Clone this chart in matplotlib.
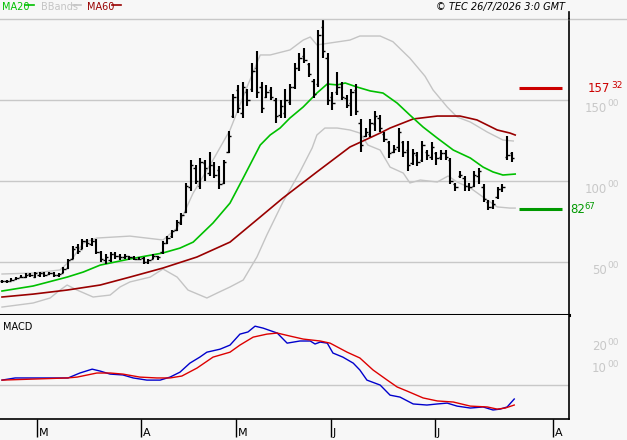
"""Daily OHLC chart with MA20 / MA60 / Bollinger bands and a MACD panel."""

import numpy as np
import matplotlib.pyplot as plt
from matplotlib.lines import Line2D
from matplotlib.transforms import blended_transform_factory

# ── Price bars (one per trading day) ─────────────────────────────────────────
low = [37, 37, 38, 39, 40, 40, 41, 40, 41, 41, 42, 41, 41, 43, 46, 52, 55, 58, 59, 60,
       55, 50, 49, 50, 52, 51, 52, 51, 51, 51, 49, 49, 52, 51, 55, 61, 65, 69, 73, 80,
       94, 98, 95, 100, 103, 102, 95, 98, 117, 139, 142, 139, 146, 155, 151, 142, 151, 150, 136, 139,
       139, 147, 157, 168, 173, 164, 151, 158, 176, 147, 144, 153, 150, 145, 140, 141, 118, 127, 127, 131,
       130, 124, 114, 117, 118, 115, 106, 110, 109, 112, 113, 113, 110, 113, 113, 98, 94, 102, 94, 94,
       96, 98, 87, 82, 83, 89, 93, 113, 112]
high = [39, 39, 40, 41, 42, 43, 43, 44, 44, 44, 44, 44, 43, 47, 52, 60, 61, 64, 64, 65,
        64, 57, 55, 56, 56, 55, 55, 54, 54, 53, 53, 52, 55, 54, 63, 66, 70, 76, 80, 99,
        113, 110, 114, 113, 118, 112, 109, 113, 131, 154, 159, 161, 157, 173, 180, 161, 159, 158, 151, 150,
        157, 160, 173, 179, 182, 173, 163, 193, 200, 179, 155, 167, 161, 153, 157, 160, 138, 133, 138, 143,
        141, 130, 125, 122, 133, 125, 125, 120, 118, 125, 119, 124, 118, 119, 119, 114, 99, 106, 103, 99,
        106, 108, 98, 88, 88, 96, 98, 128, 118]
open_ = [38, 38, 38.5, 39.5, 40.5, 41, 42.5, 41, 42, 43, 42.5, 43, 42, 43.5, 46.5, 52, 59, 58, 63, 61,
         63, 56, 51, 51, 55, 54, 53, 54, 53, 52, 52.5, 50, 52, 54, 56, 62, 66, 70, 74, 81,
         96, 108, 97, 111, 105, 110, 107, 99, 118, 140, 156, 142, 155, 157, 170, 158, 152, 156, 150, 141,
         142, 149, 158, 170, 177, 172, 162, 160, 195, 176, 152, 155, 160, 151, 148, 156, 136, 128, 129, 135,
         139, 129, 124, 118, 121, 124, 119, 111, 116, 113, 118, 115, 117, 115, 117, 113, 98, 103, 102, 97,
         97, 103, 96, 87, 84, 90, 95, 115, 117]
close = [38, 38.5, 39, 40, 41, 42, 42, 43, 43, 42, 43, 42, 42.5, 46, 51, 58, 57, 63, 62, 63,
         56, 52, 53, 55, 54, 53, 54, 53, 52, 52, 50, 51, 54, 53, 62, 65, 69, 75, 79, 97,
         110, 100, 112, 108, 110, 104, 98, 112, 128, 152, 145, 158, 150, 168, 155, 145, 155, 152, 140, 146,
         150, 158, 170, 176, 175, 166, 154, 190, 180, 150, 148, 158, 152, 147, 155, 143, 122, 130, 136, 140,
         133, 126, 117, 120, 130, 118, 110, 117, 112, 122, 116, 121, 114, 117, 115, 100, 96, 104, 97, 96,
         104, 106, 89, 84, 86, 95, 96, 116, 114]

# ── Overlays (sampled along the trading-day axis) ────────────────────────────
ma20_x = [0, 6.6, 13.8, 17.2, 20.8, 27.1, 34.1, 37.7, 40.5, 44.7, 48.3, 51.1, 54.7, 56.8, 58.9,
          61, 63.8, 66.7, 68.9, 71, 72.7, 75.2, 78, 80.7, 83.7, 86.4, 89.2, 92.2, 95.6, 99.2,
          101.9, 104, 106.1, 108.7]
ma20_y = [32.1, 35.2, 40.7, 43.8, 48.1, 51.9, 55.6, 58.6, 62.3, 74.1, 86.4, 101.9, 122.2, 128.4, 132.7,
          138.9, 145.7, 154.3, 159.9, 159.3, 160.5, 158.0, 155.6, 154.3, 148.1, 140.7, 133.3, 126.5, 119.1, 114.2,
          108.6, 105.6, 103.7, 104.3]

ma60_x = [0, 6.6, 13.8, 20.8, 27.1, 34.1, 41.3, 48.3, 54.7, 59.5, 66.7, 73.7, 80.1, 82.2,
          87.1, 92.2, 97, 100.6, 104.9, 107.6, 108.7]
ma60_y = [28.4, 30.2, 32.7, 35.8, 40.7, 46.3, 53.1, 62.3, 77.8, 89.5, 105.6, 121.0, 129.6, 132.7,
          138.3, 140.1, 140.1, 137.7, 131.5, 129.6, 128.4]

bb_up_x = [0, 6.6, 12.3, 15.0, 17.2, 20.1, 27.1, 34.1, 37.1, 40.5, 44.7, 48.3, 51.9, 54, 54.7,
           56.8, 61, 63.8, 65.3, 66.7, 69.5, 73.7, 75.8, 80.1, 82.8, 86.4, 89.6, 91.3, 94.3, 96.4,
           99.2, 102.8, 106.1, 108.3]
bb_up_y = [42.6, 43.2, 45.1, 52.5, 61.7, 64.8, 66.0, 63.6, 71.0, 92.6, 113.0, 131.5, 158.0, 172.8, 177.8,
           177.8, 180.9, 187.0, 188.9, 184.0, 185.2, 187.0, 189.5, 189.5, 186.0, 175.8, 164.7, 156.2, 145.7, 139.5,
           136.4, 130.2, 125.3, 124.7]

bb_lo_x = [0, 6.6, 10.2, 12.3, 13.8, 15.9, 19.3, 22.9, 25, 27.1, 31.4, 34.1, 37.1, 39.4, 43.4,
           45.6, 48.3, 51.1, 54, 56.1, 59.5, 63.1, 65.7, 66.7, 68.4, 71, 73.7, 75.8, 77.5, 80.1,
           82.2, 85, 86.4, 88.6, 92.2, 94.5, 96.4, 99.2, 101.9, 104.9, 107.6, 108.7]
bb_lo_y = [22.2, 24.7, 27.8, 32.7, 35.8, 32.7, 28.4, 29.6, 34.6, 37.7, 40.7, 45.7, 40.7, 32.7, 27.8,
           30.9, 34.6, 38.9, 53.1, 66.7, 87.0, 105.6, 120.4, 128.4, 132.7, 132.7, 131.5, 129.6, 122.2, 119.1,
           108.6, 104.9, 98.8, 100.6, 99.4, 103.1, 99.4, 95.7, 90.1, 84.0, 83.3, 83.3]

# ── MACD panel ───────────────────────────────────────────────────────────────
macd_x = [0, 2.8, 6.6, 9.5, 14, 16.5, 19.1, 20.8, 22.9, 25.6, 27.8, 30.7, 33.5, 35.6, 37.7,
          39.8, 41.9, 43.4, 46.2, 48.3, 50.4, 52.1, 53.6, 55.3, 58.3, 60.4, 63.1, 65.3, 66.3, 67.4,
          68.9, 70.1, 72.2, 74.4, 75.8, 77.3, 80.1, 82.2, 84.3, 87.1, 90, 92.2, 94.3, 96.4, 99.2,
          101.9, 104, 105.5, 107, 108.5]
macd_y = [2.3, 3.3, 3.3, 3.3, 3.3, 5.6, 7.4, 6.5, 5.1, 4.7, 3.3, 2.3, 2.3, 3.7, 6.0,
          10.2, 13.0, 15.3, 16.7, 18.6, 23.7, 24.7, 27.4, 26.5, 24.2, 19.5, 20.5, 20.5, 19.1, 20.0,
          19.5, 14.9, 13.0, 10.2, 7.0, 2.3, 0.0, -4.7, -5.6, -8.8, -9.3, -8.8, -8.4, -9.8, -10.7,
          -10.2, -11.6, -11.2, -10.2, -6.5]
sig_x = [0, 13.8, 15.9, 20.1, 22.9, 25.6, 29.2, 32.8, 35.6, 38.1, 41.3, 44.7, 48.3, 50.4, 53.2,
         56.1, 58.3, 61, 63.8, 67.4, 69.5, 73.1, 75.8, 78.6, 81.6, 83.7, 85.8, 89.2, 92.2, 95.6,
         99.2, 102.8, 104.9, 106.6, 108.5]
sig_y = [2.3, 3.3, 3.7, 5.6, 5.6, 5.1, 3.7, 3.3, 3.3, 4.2, 7.9, 13.0, 15.3, 18.6, 22.3,
         23.7, 24.2, 22.8, 21.4, 20.5, 19.5, 15.3, 12.6, 7.0, 2.3, -0.9, -2.8, -6.0, -7.4, -7.9,
         -9.8, -10.2, -11.2, -10.7, -9.3]

months = ["M", "A", "M", "J", "J", "A"]
month_pos = [7.4, 29.4, 49.6, 69.7, 91.7, 116.7]

price_ticks = [50, 100, 150]
macd_ticks = [10, 20]
level_hi = (157, 32)
level_lo = (82, 67)

BG = "#f7f7f7"
GRID = "#c8c8c8"
W, H = 627, 440

fig = plt.figure(figsize=(W / 100, H / 100), dpi=100, facecolor=BG)
ax = fig.add_axes([0, 1 - 315 / H, 569 / W, 296 / H], facecolor=BG)
ax2 = fig.add_axes([0, 1 - 419 / H, 569 / W, 104 / H], facecolor=BG)

# ── Main panel ───────────────────────────────────────────────────────────────
for p in price_ticks:
    ax.axhline(p, color=GRID, lw=1, zorder=0)

ax.plot(bb_up_x, bb_up_y, color="#c4c4c4", lw=1)
ax.plot(bb_lo_x, bb_lo_y, color="#c4c4c4", lw=1)
ax.plot(ma60_x, ma60_y, color="#990000", lw=1.2)
ax.plot(ma20_x, ma20_y, color="#00c000", lw=1.2)

idx = np.arange(len(close))
ax.vlines(idx, low, high, color="black", lw=1.5, zorder=3)
ax.hlines(open_, idx - 0.5, idx, color="black", lw=1, zorder=3)
ax.hlines(close, idx, idx + 0.5, color="black", lw=1, zorder=3)

hi_val = level_hi[0] + level_hi[1] / 100
lo_val = level_lo[0] + level_lo[1] / 100
ax.hlines(hi_val, 109.5, 118.6, color="#cc0000", lw=2.2)
ax.hlines(lo_val, 109.5, 118.6, color="#009900", lw=2.2)

ax.set_xlim(-0.42, 120.1)
ax.set_ylim(17.3, 200)
ax.set_xticks([])
ax.set_yticks([])
for s in ["top", "left"]:
    ax.spines[s].set_visible(False)
ax.spines["right"].set_color("black")
ax.spines["right"].set_linewidth(1.2)
ax.spines["bottom"].set_color("black")
ax.spines["bottom"].set_linewidth(2.2)

# right-hand labels
tr = blended_transform_factory(fig.transFigure, ax.transData)
for p in price_ticks:
    ax.text(607 / W, p - 1.5, f"{p}", transform=tr, ha="right", va="top",
            color=GRID, fontsize=8.5, clip_on=False)
    ax.text(607.5 / W, p + 0.5, "00", transform=tr, ha="left", va="top",
            color=GRID, fontsize=6.5, clip_on=False)
ax.text(610 / W, hi_val, f"{level_hi[0]}", transform=tr, ha="right", va="center",
        color="#cc0000", fontsize=8.5, clip_on=False)
ax.text(611 / W, hi_val + 1.5, f"{level_hi[1]}", transform=tr, ha="left", va="center",
        color="#cc0000", fontsize=6.5, clip_on=False)
ax.text(570 / W, lo_val, f"{level_lo[0]}", transform=tr, ha="left", va="center",
        color="#009900", fontsize=8.5, clip_on=False)
ax.text(584 / W, lo_val + 1.8, f"{level_lo[1]}", transform=tr, ha="left", va="center",
        color="#009900", fontsize=6, clip_on=False)

# ── MACD panel ───────────────────────────────────────────────────────────────
ax2.axhline(0, color=GRID, lw=1, zorder=0)
ax2.plot(macd_x, macd_y, color="#0000cc", lw=1)
ax2.plot(sig_x, sig_y, color="#dd0000", lw=1)
ax2.set_xlim(-0.42, 120.1)
ax2.set_ylim(-15.8, 32.6)
ax2.set_yticks([])
ax2.set_xticks(month_pos)
ax2.set_xticklabels([])
ax2.tick_params(axis="x", direction="out", length=13, width=1, color="black")
ax2.spines["top"].set_visible(False)
ax2.spines["left"].set_visible(False)
ax2.spines["right"].set_linewidth(1.2)
ax2.spines["bottom"].set_linewidth(1.2)
ax2.text(3 / 569, 0.88, "MACD", transform=ax2.transAxes, fontsize=7,
         ha="left", va="center", color="black")

tr2 = blended_transform_factory(fig.transFigure, ax2.transData)
for v in macd_ticks:
    ax2.text(607 / W, v + 0.8, f"{v}", transform=tr2, ha="right", va="top",
             color=GRID, fontsize=8.5, clip_on=False)
    ax2.text(607.5 / W, v + 1.7, "00", transform=tr2, ha="left", va="top",
             color=GRID, fontsize=6.5, clip_on=False)

trm = blended_transform_factory(ax2.transData, fig.transFigure)
for m, xp in zip(months, month_pos):
    fig.text(xp + 0.4, 1 - 438 / H, m, transform=trm, fontsize=8, ha="left", va="bottom")

# ── Header ───────────────────────────────────────────────────────────────────
fig.add_artist(Line2D([0, 1], [1 - 19 / H, 1 - 19 / H], transform=fig.transFigure,
                      color=GRID, lw=1))
fig.add_artist(Line2D([569 / W, 569 / W], [1 - 12 / H, 1 - 19 / H],
                      transform=fig.transFigure, color="black", lw=1.2))

legend = [("MA20", "#00c000", 2, 25, 34), ("BBands", "#c4c4c4", 41, 73, 81),
          ("MA60", "#990000", 87, 112, 121)]
for name, col, x0, l0, l1 in legend:
    fig.text(x0 / W, 1 - 7 / H, name, color=col, fontsize=7, ha="left", va="center")
    fig.add_artist(Line2D([l0 / W, l1 / W], [1 - 5 / H, 1 - 5 / H],
                          transform=fig.transFigure, color=col, lw=1.2))

fig.text(565 / W, 1 - 7 / H, "© TEC 26/7/2026 3:0 GMT", fontsize=7, style="italic",
         ha="right", va="center", color="black")

fig.savefig("out.png", dpi=100, facecolor=BG)
